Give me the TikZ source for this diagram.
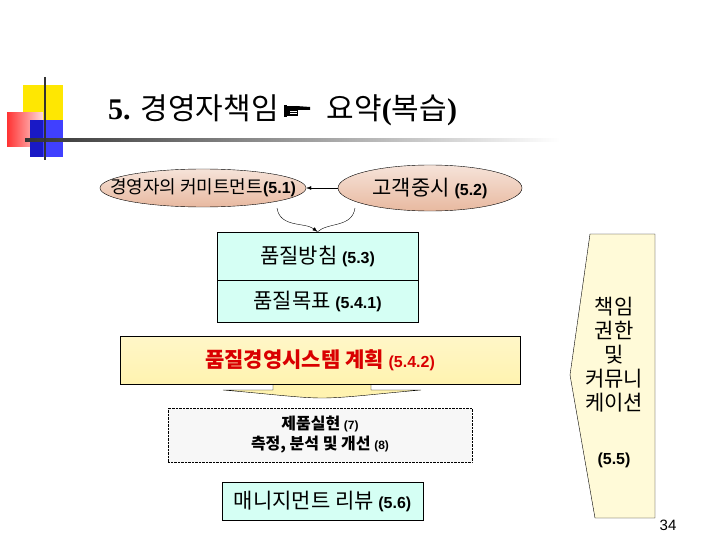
\documentclass[tikz,border=0pt]{standalone}
\usepackage{fontspec}
\setmainfont{Liberation Serif}
\newfontfamily\kr{Noto Sans CJK KR}
\newfontfamily\lsans{Liberation Sans}
\usetikzlibrary{shapes.geometric,arrows.meta}
\definecolor{cyanf}{HTML}{D5FFF4}
\definecolor{yelf}{HTML}{FFF3B0}
\definecolor{pale}{HTML}{FFFAD8}
\definecolor{ellf}{HTML}{E8B9A0}
\tikzset{
 box/.style={draw,fill=cyanf,minimum width=201pt,inner sep=0pt,font=\kr\fontsize{21}{24}\selectfont},
 ell/.style={ellipse,draw,inner sep=0pt,top color=ellf!40,bottom color=ellf,middle color=ellf!70},
 lbl/.style={font=\kr\fontsize{21}{24}\selectfont}
}
\newcommand\num[1]{{\lsans\bfseries\fontsize{16}{18}\selectfont#1}}
\begin{document}
\begin{tikzpicture}[x=1pt,y=-1pt]
\useasboundingbox (0,0) rectangle (720,540);
% decoration
\fill[yellow!90!orange] (23,85) rectangle (63,120);
\fill[left color=red!80,right color=red!15] (7,113) rectangle (43,147);
\fill[blue!75!black!90] (30,120) rectangle (63,157);
\fill[blue!75] (43,120) rectangle (63,157);
\shade[left color=black!80,right color=white] (25,139) rectangle (560,141.5);
\draw[line width=1.5pt,black!80] (45,77) -- (45,160);
\node[anchor=west,inner sep=0pt,font=\fontsize{30}{32}\selectfont\bfseries] (title) at (108,110)
 {5. {\kr\mdseries 경영자책임}\hspace{48pt}{\kr\mdseries 요약}({\kr\mdseries 복습})};
% pointing hand symbol
\begin{scope}[shift={(296,111)}]
\fill[black] (-10,-5) rectangle (2,5);
\fill[black] (0,-5) -- (14,-4) -- (14,-1) -- (2,-1) -- cycle;
\fill[black] (-12,-6) rectangle (-9,6);
\draw[white,line width=0.6pt] (-6,0) -- (1,0) (-6,2.5) -- (1,2.5);
\end{scope}
% ellipses
\node[ell,minimum width=206pt,minimum height=38pt] (e1) at (203,188) {};
\node[font=\kr\fontsize{18}{20}\selectfont] at (e1) {경영자의 커미트먼트\num{(5.1)}};
\node[ell,minimum width=184pt,minimum height=46pt] (e2) at (430,188) {};
\node[lbl] at (e2) {고객중시 \num{(5.2)}};
\draw[-{Latex[length=5pt]}] (e2.west) -- (e1.east);
% boxes
\node[box,minimum height=48pt] (b1) at (317.5,256) {품질방침 \num{(5.3)}};
\node[box,minimum height=42pt,anchor=north] (b2) at (b1.south) {품질목표 \num{(5.4.1)}};
\coordinate (m) at (b1.north);
\draw[-{Latex[length=5pt]}] (277,208) .. controls (280,228) and (305,222) .. (m);
\draw (355,208) .. controls (352,228) and (328,222) .. (m);
% plan box with arrow
\fill[yelf,draw=black] (273,384) -- (273,390) -- (223,390) .. controls (270,394) and (300,398) .. (322,398)
  .. controls (345,398) and (375,394) .. (421,390) -- (371,390) -- (371,384);
\node[draw,top color=yelf!70,bottom color=yelf,minimum width=400pt,minimum height=48pt,inner sep=0pt,text=red!85!black,font=\kr\bfseries\fontsize{21}{24}\selectfont] (plan) at (320,360)
 {품질경영시스템 계획 \num{(5.4.2)}};
\node[draw,densely dotted,fill=black!3,minimum width=304pt,minimum height=54pt,align=center,inner sep=0pt,font=\kr\bfseries\fontsize{16}{20}\selectfont] (real) at (320,435)
 {제품실현 {\lsans\fontsize{12}{14}\selectfont(7)}\\측정, 분석 및 개선 {\lsans\fontsize{12}{14}\selectfont(8)}};
\node[box,minimum height=38pt] (rev) at (322.5,501) {매니지먼트 리뷰 \num{(5.6)}};
% right shape
\filldraw[fill=pale] (590,234) -- (655,234) -- (655,518) -- (595,518) -- (570,375) -- cycle;
\node[align=center,font=\kr\fontsize{21}{24}\selectfont] (resp) at (614,382)
 {책임\\권한\\및\\커뮤니\\케이션\\[30pt]\num{(5.5)}};
\node[font=\lsans\fontsize{15}{15}\selectfont] (pg) at (668,525) {34};
\end{tikzpicture}
\end{document}
